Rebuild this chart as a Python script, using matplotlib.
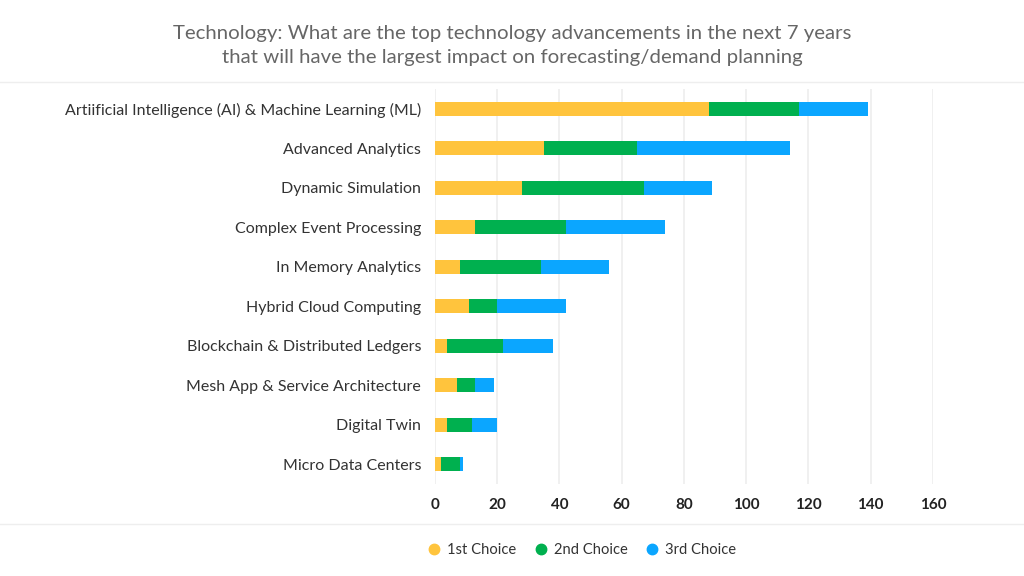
import matplotlib.pyplot as plt
from matplotlib.lines import Line2D
import numpy as np

# data
categories = [
    "Artiificial Intelligence (AI) & Machine Learning (ML)",
    "Advanced Analytics",
    "Dynamic Simulation",
    "Complex Event Processing",
    "In Memory Analytics",
    "Hybrid Cloud Computing",
    "Blockchain & Distributed Ledgers",
    "Mesh App & Service Architecture",
    "Digital Twin",
    "Micro Data Centers",
]
first_choice = [88, 35, 28, 13, 8, 11, 4, 7, 4, 2]
second_choice = [29, 30, 39, 29, 26, 9, 18, 6, 8, 6]
third_choice = [22, 49, 22, 32, 22, 22, 16, 6, 8, 1]
series_names = ["1st Choice", "2nd Choice", "3rd Choice"]
x_ticks = [0, 20, 40, 60, 80, 100, 120, 140, 160]

colors = ["#FFC43D", "#00B04F", "#0BA6FF"]

plt.rcParams['font.family'] = ['Lato', 'DejaVu Sans']

fig = plt.figure(figsize=(10.24, 5.76), dpi=100)
ax = fig.add_axes([0.4248, 0.1597, 0.4863, 0.6858])

y = np.arange(len(categories))
left = np.zeros(len(categories))
for vals, col, name in zip([first_choice, second_choice, third_choice], colors, series_names):
    ax.barh(y, vals, left=left, height=0.355, color=col, label=name, zorder=3)
    left = left + np.array(vals)

ax.set_ylim(len(categories) - 0.5, -0.5)
ax.set_xlim(0, 160)
ax.set_yticks(y)
ax.set_yticklabels(categories, fontsize=11.5, color="#333333")
ax.set_xticks(x_ticks)
ax.set_xticklabels([str(t) for t in x_ticks], fontsize=11, color="#222222", fontweight="bold")
ax.tick_params(axis="y", length=0, pad=10)
ax.tick_params(axis="x", length=0, pad=10)
ax.grid(axis="x", color="#eeeeee", linewidth=1.2, zorder=0)
for s in ax.spines.values():
    s.set_visible(False)

# title
fig.text(0.5, 1 - 33 / 576, "Technology: What are the top technology advancements in the next 7 years",
         ha="center", va="center", fontsize=14.7, color="#666666")
fig.text(0.5, 1 - 57 / 576, "that will have the largest impact on forecasting/demand planning",
         ha="center", va="center", fontsize=14.7, color="#666666")

# separator lines
fig.add_artist(Line2D([0, 1], [1 - 82 / 576, 1 - 82 / 576], color="#eeeeee", linewidth=1))
fig.add_artist(Line2D([0, 1], [1 - 524 / 576, 1 - 524 / 576], color="#eeeeee", linewidth=1))

# legend
handles = [Line2D([], [], marker="o", linestyle="", markersize=7.5, color=c) for c in colors]
fig.legend(handles, series_names, loc="center", bbox_to_anchor=(0.569, 1 - 550 / 576),
           ncol=3, frameon=False, fontsize=10.6, handlelength=0.7, handletextpad=0.55,
           columnspacing=1.3, labelcolor="#333333")

fig.savefig("out.png", dpi=100)
